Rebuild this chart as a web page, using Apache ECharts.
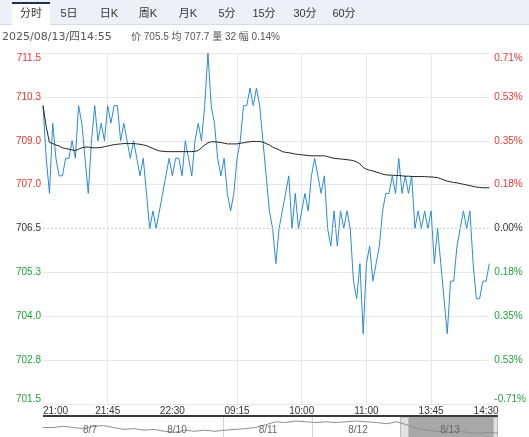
<!DOCTYPE html>
<html>
<head>
<meta charset="utf-8">
<script src="https://cdn.jsdelivr.net/npm/echarts@6/dist/echarts.min.js"></script>
<style>
html,body{margin:0;padding:0;background:#fff;}
#c{width:529px;height:437px;}
</style>
</head>
<body>
<div id="c"></div>
<script>
// ---------- data ----------
const tabs = ['分时', '5日', '日K', '周K', '月K', '5分', '15分', '30分', '60分'];
const infoDate = '2025/08/13/四14:55';
const infoRest = '价 705.5 均 707.7 量 32 幅 0.14%';

const priceLabels = ['701.5', '702.8', '704.0', '705.3', '706.5', '707.0', '709.0', '710.3', '711.5'];
const pctLabels = ['-0.71%', '0.53%', '0.35%', '0.18%', '0.00%', '0.18%', '0.35%', '0.53%', '0.71%'];

const timeLabels = ['21:00', '21:45', '22:30', '09:15', '10:00', '11:00', '13:45', '14:30'];
const timeLabelIndex = [0, 20, 40, 60, 80, 100, 120, 137];
const timeGridIndex = [20, 60, 80, 100, 120];

const price = [
  710.0, 708.5, 707.5, 709.5, 708.5, 708.0, 708.0, 708.5, 708.5, 709.0,
  708.5, 710.0, 709.5, 708.5, 707.5, 709.0, 710.0, 709.0, 709.5, 709.0,
  710.0, 709.5, 710.0, 710.0, 709.0, 709.5, 709.0, 708.5, 709.0, 708.5,
  708.0, 708.5, 707.5, 706.5, 707.0, 706.5, 707.0, 707.5, 708.0, 708.5,
  708.0, 708.5, 708.5, 708.0, 709.0, 708.5, 708.0, 709.0, 709.5, 709.0,
  710.0, 711.5, 710.0, 709.5, 708.5, 708.0, 708.5, 707.5, 707.0, 707.5,
  708.5, 709.0, 710.0, 710.0, 710.5, 710.0, 710.5, 710.0, 709.0, 708.0,
  707.0, 706.5, 705.5, 706.5, 707.0, 707.5, 708.0, 706.5, 707.5, 706.5,
  707.0, 707.5, 707.0, 708.0, 708.5, 708.0, 707.5, 708.0, 706.5, 706.0,
  707.0, 706.0, 707.0, 706.5, 707.0, 706.5, 705.0, 704.5, 705.5, 703.5,
  705.5, 706.0, 705.0, 705.5, 706.0, 707.0, 707.5, 707.5, 708.0, 707.5,
  708.5, 707.5, 708.0, 707.5, 708.0, 706.5, 707.0, 706.5, 707.0, 706.5,
  707.0, 705.5, 706.5, 705.5, 704.5, 703.5, 705.0, 705.0, 706.0, 706.5,
  707.0, 706.5, 707.0, 705.5, 704.5, 704.5, 705.0, 705.0, 705.5
];

const avgPrice = [
  710.0, 709.4, 708.95, 708.92, 708.88, 708.85, 708.8, 708.78, 708.76, 708.74,
  708.72, 708.76, 708.8, 708.82, 708.82, 708.8, 708.8, 708.8, 708.81, 708.83,
  708.85, 708.87, 708.89, 708.9, 708.91, 708.92, 708.92, 708.92, 708.92, 708.91,
  708.9, 708.88, 708.86, 708.82, 708.78, 708.74, 708.71, 708.7, 708.69, 708.69,
  708.69, 708.69, 708.69, 708.69, 708.69, 708.69, 708.69, 708.7, 708.72, 708.8,
  708.88, 708.94, 708.97, 708.97, 708.96, 708.95, 708.93, 708.91, 708.91, 708.91,
  708.91, 708.93, 708.94, 708.96, 708.97, 708.98, 708.98, 708.98, 708.96, 708.92,
  708.88, 708.82, 708.78, 708.74, 708.69, 708.67, 708.66, 708.64, 708.62, 708.61,
  708.6, 708.59, 708.58, 708.57, 708.57, 708.57, 708.57, 708.57, 708.55, 708.52,
  708.5, 708.49, 708.48, 708.47, 708.46, 708.45, 708.43, 708.4, 708.34, 708.24,
  708.19, 708.16, 708.14, 708.11, 708.08, 708.05, 708.03, 708.02, 708.02, 708.01,
  708.01, 708.0, 707.99, 707.99, 707.98, 707.98, 707.98, 707.98, 707.98, 707.97,
  707.97, 707.96, 707.95, 707.92, 707.88, 707.85, 707.83, 707.81, 707.8, 707.78,
  707.76, 707.74, 707.72, 707.7, 707.68, 707.67, 707.66, 707.66, 707.66
];

const stripDays = ['8/7', '8/10', '8/11', '8/12', '8/13'];
const stripValues = [
  712.5, 712.5, 714, 712.5, 711, 714, 715, 712.5, 710, 711,
  709, 710, 707.5, 706, 709, 707.5, 709, 707.5, 709, 710,
  711, 712.5, 716, 720, 719, 721, 720, 719, 720, 719,
  720, 721, 720, 719, 717.5, 720, 716, 711, 709, 707.5,
  706, 707.5, 706, 705, 706, 705
];

// ---------- chart ----------
const FONT = "'Liberation Sans','Noto Sans CJK SC',sans-serif";
const RED = '#e8372f', GREEN = '#22a33a', DARK = '#333';
const labelAt = {};
timeLabelIndex.forEach((k, j) => { labelAt[k] = timeLabels[j]; });
const xIdx = price.map((_, i) => i);
const stripIdx = stripValues.map((_, i) => i);
const yColor = (v, i) => (i > 4 ? RED : (i < 4 ? GREEN : DARK));

const tabCenters = [31, 69, 109, 148, 188, 227, 264, 305, 344];
const dayCenters = [90, 177, 268, 358, 450];

const graphic = [
  { type: 'rect', shape: { x: 0, y: 0, width: 529, height: 25 }, style: { fill: '#edf1f7' }, silent: true },
  { type: 'rect', shape: { x: 0, y: 24, width: 529, height: 1 }, style: { fill: '#d3dbe6' }, silent: true },
  { type: 'rect', shape: { x: 12, y: 2, width: 38, height: 23 }, style: { fill: '#ffffff' }, silent: true },
  { type: 'rect', shape: { x: 12, y: 2, width: 38, height: 2 }, style: { fill: '#1f2f4d' }, silent: true },
  { type: 'text', x: 2, y: 37, style: { text: infoDate, fill: '#555', font: "11px 'DejaVu Sans','Noto Sans CJK SC',sans-serif", textVerticalAlign: 'middle' }, silent: true },
  { type: 'text', x: 131, y: 37, style: { text: infoRest, fill: '#555', font: '10px ' + FONT, textVerticalAlign: 'middle' }, silent: true },
  { type: 'rect', shape: { x: 43, y: 415, width: 455, height: 2 }, style: { fill: '#3a3a3a' }, silent: true },
  { type: 'rect', shape: { x: 409, y: 417, width: 84, height: 20 }, style: { fill: '#a8a8a8' }, silent: true },
  { type: 'rect', shape: { x: 400.5, y: 417.5, width: 8, height: 20 }, style: { fill: '#e2e2e2', stroke: '#bdbdbd', lineWidth: 1 }, silent: true },
  { type: 'rect', shape: { x: 493.5, y: 417.5, width: 4, height: 20 }, style: { fill: '#e2e2e2', stroke: '#bdbdbd', lineWidth: 1 }, silent: true },
  { type: 'line', shape: { x1: 223.5, y1: 417, x2: 223.5, y2: 437 }, style: { stroke: '#d4d4d4', lineWidth: 1 }, silent: true },
  { type: 'line', shape: { x1: 312.5, y1: 417, x2: 312.5, y2: 437 }, style: { stroke: '#d4d4d4', lineWidth: 1 }, silent: true }
];
tabs.forEach((t, i) => {
  graphic.push({ type: 'text', x: tabCenters[i], y: 14, style: { text: t, fill: '#333', font: '11px ' + FONT, textAlign: 'center', textVerticalAlign: 'middle' }, silent: true });
});
stripDays.forEach((d, i) => {
  graphic.push({ type: 'text', x: dayCenters[i], y: 430, z: 10, style: { text: d, fill: '#666', font: '10px ' + FONT, textAlign: 'center', textVerticalAlign: 'middle' }, silent: true });
});

const option = {
  animation: false,
  backgroundColor: '#fff',
  textStyle: { fontFamily: FONT },
  grid: [
    { left: 43, right: 37, top: 53, bottom: 33 },
    { left: 43, right: 31, top: 418, bottom: 0 }
  ],
  xAxis: [
    {
      type: 'category', gridIndex: 0, data: xIdx, boundaryGap: false,
      axisLine: { show: false }, axisTick: { show: false },
      axisLabel: {
        interval: (i) => labelAt[i] !== undefined,
        formatter: (v, i) => labelAt[i] || '',
        color: DARK, fontSize: 10, margin: 2, fontFamily: FONT,
        alignMinLabel: 'left'
      },
      splitLine: { show: true, interval: (i) => timeGridIndex.indexOf(i) >= 0, lineStyle: { color: '#e8e8e8', width: 1 } }
    },
    {
      type: 'category', gridIndex: 1, data: stripIdx, boundaryGap: false, show: false
    }
  ],
  yAxis: [
    { type: 'value', gridIndex: 0, min: 701.5, max: 711.5, show: false },
    {
      type: 'category', gridIndex: 0, position: 'left', data: priceLabels, boundaryGap: false,
      axisLine: { show: false }, axisTick: { show: false },
      axisLabel: { interval: 0, color: yColor, fontSize: 10, margin: 2, fontFamily: FONT,
        verticalAlignMinLabel: 'bottom', verticalAlignMaxLabel: 'top' },
      splitLine: { show: true, interval: (i) => i !== 4, lineStyle: { color: '#e8e8e8', width: 1 } }
    },
    {
      type: 'category', gridIndex: 0, position: 'right', data: pctLabels, boundaryGap: false,
      axisLine: { show: false }, axisTick: { show: false },
      axisLabel: { interval: 0, color: yColor, fontSize: 10, margin: 5, fontFamily: FONT,
        verticalAlignMinLabel: 'bottom', verticalAlignMaxLabel: 'top' },
      splitLine: { show: false }
    },
    { type: 'value', gridIndex: 1, min: 700, max: 725, show: false }
  ],
  series: [
    {
      type: 'line', xAxisIndex: 0, yAxisIndex: 0, data: price,
      showSymbol: false, symbol: 'none', silent: true,
      lineStyle: { color: '#2b8bd3', width: 1 },
      markLine: {
        silent: true, symbol: 'none', label: { show: false },
        lineStyle: { color: '#d2d2d2', type: [2, 2], width: 1 },
        data: [{ yAxis: 706.5 }]
      },
      z: 3
    },
    {
      type: 'line', xAxisIndex: 0, yAxisIndex: 0, data: avgPrice,
      showSymbol: false, symbol: 'none', silent: true,
      lineStyle: { color: '#222', width: 1 }, z: 4
    },
    {
      type: 'line', xAxisIndex: 1, yAxisIndex: 3, data: stripValues,
      showSymbol: false, symbol: 'none', silent: true,
      lineStyle: { color: '#8f8f8f', width: 1 }
    }
  ],
  graphic: graphic
};

const chart = echarts.init(document.getElementById('c'));
chart.setOption(option);
</script>
</body>
</html>
